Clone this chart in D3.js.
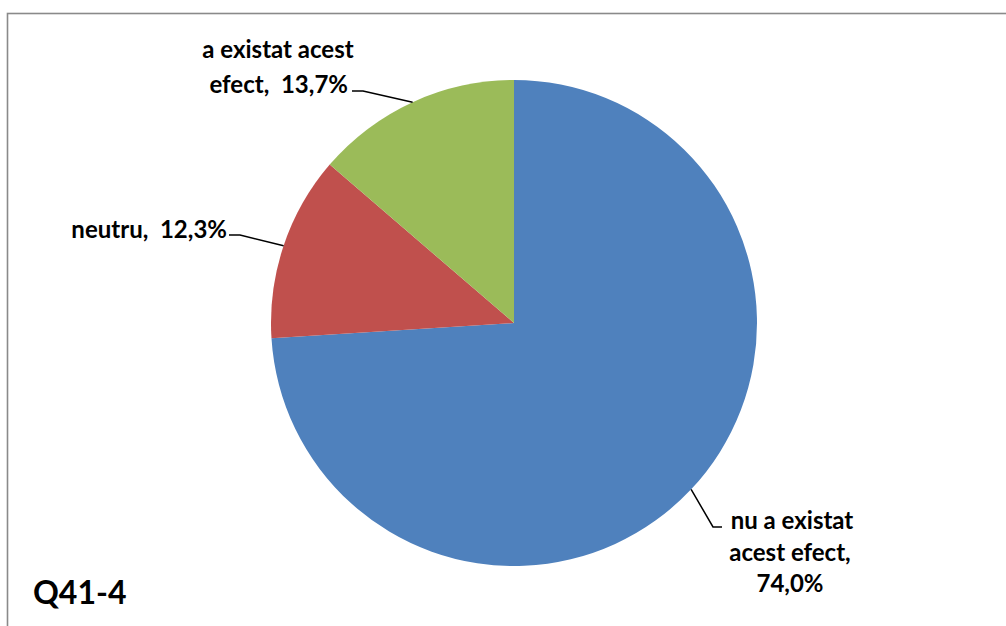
<!DOCTYPE html>
<html><head><meta charset="utf-8">
<script src="https://d3js.org/d3.v7.min.js"></script>
<style>body{margin:0;background:#fff}svg{display:block}</style>
</head><body>
<script>
const categories = ["nu a existat acest efect", "neutru", "a existat acest efect"];
const values = [74.0, 12.3, 13.7];
const valueLabels = ["74,0%", "12,3%", "13,7%"];
const colors = ["#4F81BD", "#C0504D", "#9BBB59"];
const title = "Q41-4";

const W = 1006, H = 626;
const svg = d3.select("body").append("svg").attr("width", W).attr("height", H);
const font = "Lato, 'Open Sans', sans-serif";

svg.append("rect").attr("x", 7.5).attr("y", 13.5).attr("width", 1010).attr("height", 630)
  .attr("fill", "#fff").attr("stroke", "#8a8a8a").attr("stroke-width", 1.6);

const cx = 514, cy = 323, R = 243;
const pie = d3.pie().sort(null).value(d => d)(values);
const arc = d3.arc().innerRadius(0).outerRadius(R);
const g = svg.append("g").attr("transform", `translate(${cx},${cy})`);
g.selectAll("path").data(pie).join("path").attr("d", arc).attr("fill", (d, i) => colors[i]);

function edgePt(d) {
  const a = (d.startAngle + d.endAngle) / 2;
  return [cx + R * Math.sin(a), cy - R * Math.cos(a)];
}

const labelG = svg.append("g").attr("font-family", font).attr("font-weight", "bold")
  .attr("font-size", 24).attr("fill", "#000");

const lineG = svg.append("g").attr("stroke", "#000").attr("stroke-width", 1.5).attr("fill", "none");
// blue
let p = edgePt(pie[0]);
lineG.append("polyline").attr("points", `${p[0]},${p[1]} ${713},${527} ${722},${527}`);
labelG.append("text").attr("x", 792).attr("y", 529).attr("text-anchor", "middle").text("nu a existat");
labelG.append("text").attr("x", 790).attr("y", 561).attr("text-anchor", "middle").text("acest efect,");
labelG.append("text").attr("x", 790).attr("y", 592).attr("text-anchor", "middle").text(valueLabels[0]);
// red
p = edgePt(pie[1]);
lineG.append("polyline").attr("points", `${p[0]},${p[1]} ${240},${235} ${229},${235}`);
labelG.append("text").attr("x", 227).attr("y", 238).attr("text-anchor", "end").attr("xml:space", "preserve").text("neutru,  " + valueLabels[1]);
// green
p = edgePt(pie[2]);
lineG.append("polyline").attr("points", `${p[0]},${p[1]} ${363},${91} ${352},${91}`);
labelG.append("text").attr("x", 278).attr("y", 58).attr("text-anchor", "middle").text("a existat acest");
labelG.append("text").attr("x", 348).attr("y", 93).attr("text-anchor", "end").attr("xml:space", "preserve").text("efect,  " + valueLabels[2]);

svg.append("text").attr("x", 33).attr("y", 604).attr("font-family", font).attr("font-weight", "bold")
  .attr("font-size", 32).text(title);
</script>
</body></html>
